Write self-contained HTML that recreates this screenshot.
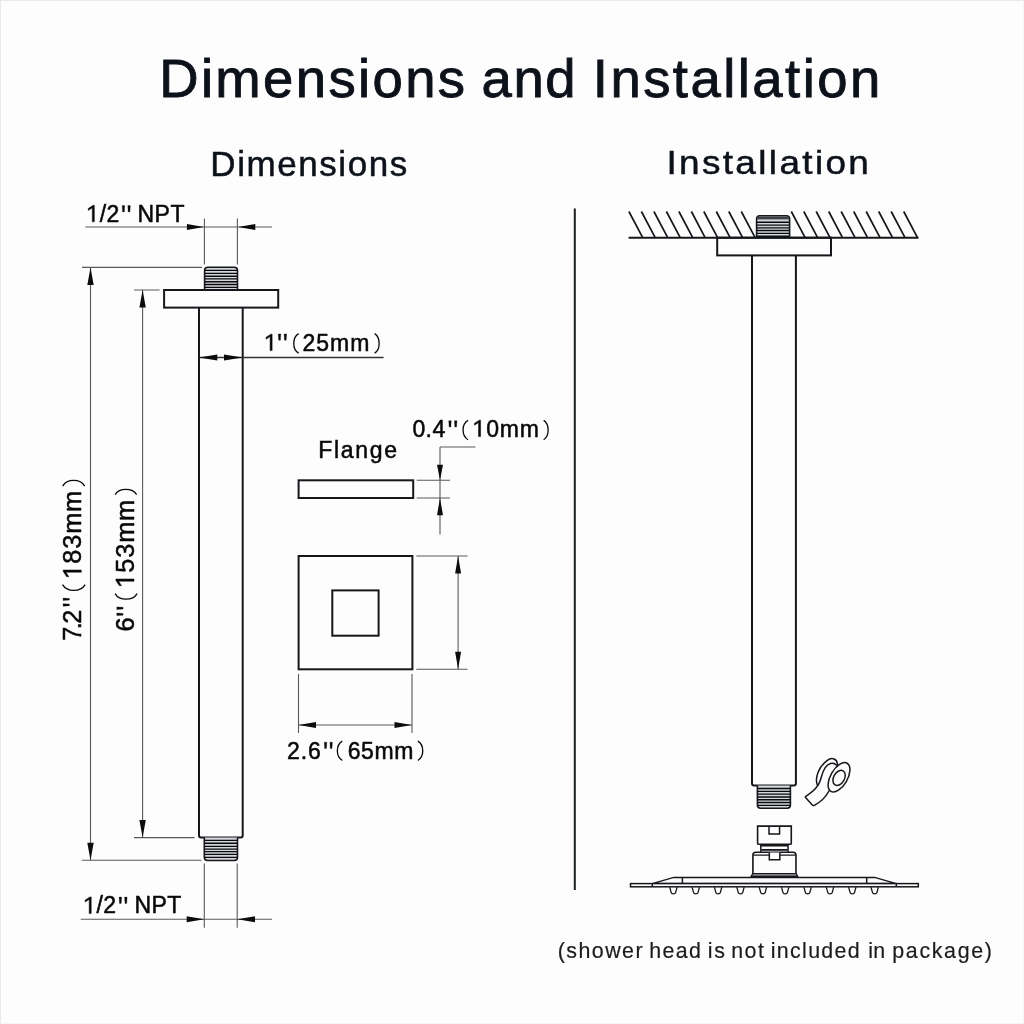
<!DOCTYPE html>
<html><head><meta charset="utf-8">
<style>
html,body{margin:0;padding:0;background:#fdfdfd;}
body{width:1024px;height:1024px;overflow:hidden;position:relative;}
svg{position:absolute;left:0;top:0;will-change:transform;}
text{font-family:"Liberation Sans",sans-serif;fill:#080808;stroke:#080808;}
.th{stroke:#5a5a5a;stroke-width:1.1;fill:none;}
.tk{stroke:#15171b;stroke-width:2;fill:none;}
.ar{fill:#0b0c0e;stroke:none;}
</style></head>
<body>
<svg width="1024" height="1024" viewBox="0 0 1024 1024">
<rect x="0" y="0" width="1024" height="1024" fill="#fdfdfd"/>
<path d="M0 0.5H1024M0.5 0V1024" stroke="#e9e9e9" stroke-width="1"/>
<path d="M0 1023.5H1024M1023.5 0V1024" stroke="#f5f5f5" stroke-width="1"/>

<!-- Titles -->

<!-- ===== LEFT: DIMENSIONS ===== -->
<!-- top 1/2 NPT -->
<path class="th" d="M85.3 227H272M204.4 218.4V264.5M237.4 218.4V264.5"/>
<path class="ar" d="M186.9 224L204 227L186.9 230Z M255.3 224L238 227L255.3 230Z"/>

<!-- top nipple -->
<path class="tk" style="stroke-width:1.6;fill:#d3d6db" d="M204.6 290V270.6Q204.6 267.3 207.9 267.3H234.2Q237.5 267.3 237.5 270.6V290"/>
<path class="th" style="stroke:#0a0a0c;stroke-width:1.35" d="M205 270.4H237M205 273.4H237M205 276.2H237M205 278.9H237M205 281.7H237M205 284.5H237M205 287.4H237"/>

<!-- flange -->
<rect class="tk" x="164.1" y="290" width="114.1" height="17.6"/>
<!-- pipe -->
<path class="tk" d="M199 307.6V835.6Q199 837.6 201 837.6H240.7Q242.7 837.6 242.7 835.6V307.6"/>
<!-- bottom nipple -->
<path class="tk" style="stroke-width:1.6;fill:#d3d6db" d="M204.3 837.6V857.3Q204.3 860.5 207.5 860.5H234.3Q237.5 860.5 237.5 857.3V837.6"/>
<path class="th" style="stroke:#0a0a0c;stroke-width:1.35" d="M204.8 840.3H237M204.8 843.2H237M204.8 846.3H237M204.8 849.1H237M204.8 851.6H237M204.8 854.3H237M204.8 857.3H237"/>

<!-- 7.2 dimension -->
<path class="th" d="M82 267.4H202M81.8 860.3H201.5M90.5 267.4V860.3"/>
<path class="ar" d="M90.5 267.4L93.7 285L87.3 285Z M90.5 860.3L93.7 842.8L87.3 842.8Z"/>

<!-- 6 dimension -->
<path class="th" d="M134 290H159.6M134 837.6H194.6M142.6 290V837.6"/>
<path class="ar" d="M142.6 290L145.8 307.4L139.4 307.4Z M142.6 837.6L145.8 820L139.4 820Z"/>

<!-- 1 inch dimension -->
<path class="th" style="stroke:#333;stroke-width:1.3" d="M199 357.5H383.6"/>
<path class="ar" d="M199 357.5L217.3 354.5L217.3 360.5Z M242.7 357.5L224 354.5L224 360.5Z"/>

<!-- bottom 1/2 NPT -->
<path class="th" d="M80.7 919.2H272M204.3 863.4V927.8M237.2 863.4V927.8"/>
<path class="ar" d="M186.7 916.2L204.3 919.2L186.7 922.2Z M255 916.2L237.2 919.2L255 922.2Z"/>

<!-- ===== FLANGE ===== -->
<rect class="tk" x="298.6" y="480.3" width="114.6" height="17.7"/>
<path class="th" d="M416.7 480.3H450M416.7 498H450M440 447H475.5M440 447V534.4"/>
<path class="ar" d="M440 480.3L443 464.7L437 464.7Z M440 498L443 515.3L437 515.3Z"/>

<rect class="tk" x="298.6" y="556" width="113.8" height="113.3"/>
<rect class="tk" x="332.3" y="590.4" width="46.3" height="45.3"/>
<path class="th" d="M416.3 556H467.5M416.3 669.3H467.5M458.1 556V669.3"/>
<path class="ar" d="M458.1 556L461.1 573.6L455.1 573.6Z M458.1 669.3L461.1 651.7L455.1 651.7Z"/>
<path class="th" d="M298.5 674V733M412 674V733M298.5 725H412"/>
<path class="ar" d="M298.5 725L316 722L316 728Z M412 725L394.5 722L394.5 728Z"/>

<!-- divider -->
<path class="tk" d="M574.8 208.5V890" style="stroke:#1a1f1f"/>

<!-- ===== RIGHT: INSTALLATION ===== -->
<path class="tk" style="stroke-width:1.7" d="M628.9 211.5L642.7 237.7M641.4 211.5L655.2 237.7M653.9 211.5L667.7 237.7M666.4 211.5L680.2 237.7M678.9 211.5L692.7 237.7M691.4 211.5L705.1 237.7M703.8 211.5L717.6 237.7M716.3 211.5L730.1 237.7M728.8 211.5L742.6 237.7M741.3 211.5L755.1 237.7M791.3 211.5L805.1 237.7M803.8 211.5L817.6 237.7M816.2 211.5L830.0 237.7M828.7 211.5L842.5 237.7M841.2 211.5L855.0 237.7M853.7 211.5L867.5 237.7M866.2 211.5L880.0 237.7M878.7 211.5L892.5 237.7M891.2 211.5L905.0 237.7M903.7 211.5L917.5 237.7"/>
<path class="tk" d="M628.6 237.7H918.5"/>
<!-- ceiling nipple -->
<path class="tk" style="stroke-width:1.6;fill:#d3d6db" d="M756.6 237.7V219Q756.6 215.8 759.8 215.8H786.4Q789.6 215.8 789.6 219V237.7"/>
<rect x="757.4" y="216.6" width="31.4" height="2.8" fill="#3c4046"/>
<path class="th" style="stroke:#0a0a0c;stroke-width:1.35" d="M757 222.2H789M757 225.1H789M757 227.8H789M757 230.5H789M757 233.4H789M757 236.2H789"/>
<rect class="tk" x="717.2" y="237.7" width="113.8" height="17.7"/>
<path class="tk" d="M752 255.4V783.5Q752 785.5 754 785.5H793.9Q795.9 785.5 795.9 783.5V255.4"/>
<path class="tk" style="stroke-width:1.6;fill:#d3d6db" d="M757.4 785.5V805Q757.4 808.2 760.6 808.2H787.2Q790.4 808.2 790.4 805V785.5"/>
<path class="th" style="stroke:#0a0a0c;stroke-width:1.35" d="M758 788.5H790M758 791.4H790M758 794.1H790M758 797H790M758 799.7H790M758 802.5H790M758 805.4H790"/>

<!-- tape roll (coords in 17.07x zoom space) -->
<g transform="translate(800 750) scale(0.058582)" fill="none" stroke="#15171b" stroke-width="1.5" style="vector-effect:non-scaling-stroke">
<path vector-effect="non-scaling-stroke" fill="#fdfdfd" d="M300 610C240 470 330 280 460 180C540 120 640 140 640 260L600 500L495 700C430 820 330 900 245 945C230 952 220 950 210 940L95 810C88 800 92 795 100 790C180 740 260 680 300 610Z"/>
<path vector-effect="non-scaling-stroke" d="M300 610C370 520 360 400 430 300C480 230 560 200 630 262"/>
<ellipse vector-effect="non-scaling-stroke" fill="#fdfdfd" cx="666" cy="466" rx="277" ry="144" transform="rotate(-60 666 466)"/>
<ellipse vector-effect="non-scaling-stroke" cx="667" cy="476" rx="138" ry="92" transform="rotate(-60 667 476)"/>
</g>

<!-- shower head connector (coords in 17.07x zoom space) -->
<g transform="translate(745 820) scale(0.058582)" fill="none" stroke="#15171b">
<path vector-effect="non-scaling-stroke" stroke-width="1.6" fill="#fdfdfd" d="M215 105H790V395Q790 415 770 415H235Q215 415 215 395Z"/>
<path vector-effect="non-scaling-stroke" stroke-width="1.5" d="M410 105V240H590V105"/>
<path vector-effect="non-scaling-stroke" stroke-width="1.5" d="M270 420V545M735 420V545M265 440H740"/>
<path vector-effect="non-scaling-stroke" stroke-width="1.8" d="M280 510H725"/>
<path vector-effect="non-scaling-stroke" stroke-width="1.6" fill="#fdfdfd" d="M135 915V600Q135 550 185 550H820Q870 550 870 600V915"/>
<path vector-effect="non-scaling-stroke" stroke-width="1.4" d="M145 600H860"/>
<path vector-effect="non-scaling-stroke" stroke-width="1.5" fill="#fdfdfd" d="M415 555V680H595V555"/>
<path vector-effect="non-scaling-stroke" stroke-width="1.2" fill="#a4a7ad" d="M130 915H875L900 962H105Z"/>
<path vector-effect="non-scaling-stroke" stroke-width="1.6" d="M100 966H905"/>
</g>

<!-- shower plate -->
<g fill="none" stroke="#15171b" stroke-width="1.5">
<path fill="#fdfdfd" d="M652.3 883.6L673.8 877.4H874.6L896.3 883.6Z"/>
<path d="M682.4 877.4V883.6M866.7 877.4V883.6"/>
<rect fill="#fdfdfd" x="630.5" y="883.6" width="287.8" height="3.2"/>
<path d="M652.3 883.6V886.8M896.3 883.6V886.8"/>
<path stroke-width="1.3" d="M669.7 887.2L671.2 892.6Q671.5 893.8 673.4 893.8Q675.3 893.8 675.6 892.6L677.1 887.2M692.1 887.2L693.6 892.6Q693.9 893.8 695.8 893.8Q697.7 893.8 698 892.6L699.5 887.2M714.4 887.2L715.9 892.6Q716.2 893.8 718.1 893.8Q720 893.8 720.3 892.6L721.8 887.2M736.8 887.2L738.3 892.6Q738.6 893.8 740.5 893.8Q742.4 893.8 742.7 892.6L744.2 887.2M759.2 887.2L760.7 892.6Q761 893.8 762.9 893.8Q764.8 893.8 765.1 892.6L766.6 887.2M781.5 887.2L783 892.6Q783.3 893.8 785.2 893.8Q787.1 893.8 787.4 892.6L788.9 887.2M803.9 887.2L805.4 892.6Q805.7 893.8 807.6 893.8Q809.5 893.8 809.8 892.6L811.3 887.2M826.3 887.2L827.8 892.6Q828.1 893.8 830 893.8Q831.9 893.8 832.2 892.6L833.7 887.2M848.6 887.2L850.1 892.6Q850.4 893.8 852.3 893.8Q854.2 893.8 854.5 892.6L856 887.2M871 887.2L872.5 892.6Q872.8 893.8 874.7 893.8Q876.6 893.8 876.9 892.6L878.4 887.2"/>
</g>

<g id="texts">
<text transform="translate(159.20 97.3) scale(1.0 0.9900)" font-size="54.5" stroke-width="0.9" letter-spacing="2.356" style="fill:#0d111a;stroke:#0d111a">Dimensions</text>
<text transform="translate(481.50 97.3) scale(1.0 0.9900)" font-size="54.5" stroke-width="0.9" letter-spacing="1.600" style="fill:#0d111a;stroke:#0d111a">and</text>
<text transform="translate(592.80 97.3) scale(1.0 0.9900)" font-size="54.5" stroke-width="0.9" letter-spacing="2.455" style="fill:#0d111a;stroke:#0d111a">Installation</text>
<text transform="translate(210.30 176.0) scale(1.0 0.9800)" font-size="35" stroke-width="0.5" letter-spacing="1.578" style="fill:#0d111a;stroke:#0d111a">Dimensions</text>
<text transform="translate(666.40 173.6) scale(1.055 0.9750)" font-size="35" stroke-width="0.5" letter-spacing="2.240" style="fill:#0d111a;stroke:#0d111a">Installation</text>
<path transform="translate(85.75 221.8) scale(0.01123 -0.01123)" d="M583 0H763V1466H650L223 1185V1010L583 1245Z" style="fill:#080808;stroke:#080808;stroke-width:44.5"/>
<text transform="translate(99.69 221.8) scale(1 1.0000)" font-size="23" stroke-width="0.5" letter-spacing="0.400">/2</text>
<text transform="translate(137.50 221.8) scale(1.0 1.0000)" font-size="23" stroke-width="0.5" letter-spacing="0.500">NPT</text>
<path transform="translate(263.55 350.6) scale(0.01123 -0.01123)" d="M583 0H763V1466H650L223 1185V1010L583 1245Z" style="fill:#080808;stroke:#080808;stroke-width:44.5"/>
<text transform="translate(277.09 350.6) scale(1 1.0000)" font-size="23" stroke-width="0.5"></text>
<text transform="translate(302.40 350.6) scale(1.0 1.0000)" font-size="23" stroke-width="0.5" letter-spacing="1.067">25mm</text>
<text transform="translate(318.30 458.0) scale(1.0 1.0000)" font-size="23" stroke-width="0.5" letter-spacing="1.680">Flange</text>
<text transform="translate(412.40 436.6) scale(1.0 1.0000)" font-size="23" stroke-width="0.5" letter-spacing="0.400">0.4</text>
<path transform="translate(472.00 436.6) scale(0.01123 -0.01123)" d="M583 0H763V1466H650L223 1185V1010L583 1245Z" style="fill:#080808;stroke:#080808;stroke-width:44.5"/>
<text transform="translate(486.27 436.6) scale(1 1.0000)" font-size="23" stroke-width="0.5" letter-spacing="0.733">0mm</text>
<text transform="translate(286.90 758.7) scale(1.0 1.0000)" font-size="23" stroke-width="0.5" letter-spacing="1.000">2.6</text>
<text transform="translate(347.70 758.7) scale(1.0 1.0000)" font-size="23" stroke-width="0.5" letter-spacing="0.600">65mm</text>
<path transform="translate(82.65 913.4) scale(0.01123 -0.01123)" d="M583 0H763V1466H650L223 1185V1010L583 1245Z" style="fill:#080808;stroke:#080808;stroke-width:44.5"/>
<text transform="translate(96.49 913.4) scale(1 1.0000)" font-size="23" stroke-width="0.5" letter-spacing="0.300">/2</text>
<text transform="translate(134.40 913.4) scale(1.0 1.0000)" font-size="23" stroke-width="0.5" letter-spacing="0.500">NPT</text>
<text transform="translate(557.70 958.4) scale(1.0 1.0000)" font-size="21.4" stroke-width="0.2" style="fill:#1c1c1c;stroke:#1c1c1c" letter-spacing="1.467">(shower</text>
<text transform="translate(649.20 958.4) scale(1.0 1.0000)" font-size="21.4" stroke-width="0.2" style="fill:#1c1c1c;stroke:#1c1c1c" letter-spacing="1.333">head</text>
<text transform="translate(707.80 958.4) scale(1.0 1.0000)" font-size="21.4" stroke-width="0.2" style="fill:#1c1c1c;stroke:#1c1c1c" letter-spacing="1.600">is</text>
<text transform="translate(731.20 958.4) scale(1.0 1.0000)" font-size="21.4" stroke-width="0.2" style="fill:#1c1c1c;stroke:#1c1c1c" letter-spacing="1.500">not</text>
<text transform="translate(770.80 958.4) scale(1.0 1.0000)" font-size="21.4" stroke-width="0.2" style="fill:#1c1c1c;stroke:#1c1c1c" letter-spacing="1.314">included</text>
<text transform="translate(868.20 958.4) scale(1.0 1.0000)" font-size="21.4" stroke-width="0.2" style="fill:#1c1c1c;stroke:#1c1c1c" letter-spacing="0.200">in</text>
<text transform="translate(892.30 958.4) scale(1.0 1.0000)" font-size="21.4" stroke-width="0.2" style="fill:#1c1c1c;stroke:#1c1c1c" letter-spacing="1.657">package)</text>
<text transform="rotate(-90) translate(-640.70 81.3) scale(1.0 1.0000)" font-size="25.3" stroke-width="0.5">7</text>
<text transform="rotate(-90) translate(-629.20 81.3) scale(1.0 1.0000)" font-size="25.3" stroke-width="0.5">.</text>
<text transform="rotate(-90) translate(-623.80 81.3) scale(1.0 1.0000)" font-size="25.3" stroke-width="0.5">2</text>
<path transform="rotate(-90) translate(-579.43 81.3) scale(0.01235 -0.01235)" d="M583 0H763V1466H650L223 1185V1010L583 1245Z" style="fill:#080808;stroke:#080808;stroke-width:40.5"/>
<text transform="rotate(-90) translate(-563.68 81.3) scale(1 1.0000)" font-size="25.3" stroke-width="0.5" letter-spacing="0.850">83mm</text>
<text transform="rotate(-90) translate(-631.50 134.0) scale(1.0 1.0000)" font-size="25.3" stroke-width="0.5">6</text>
<path transform="rotate(-90) translate(-588.43 134.0) scale(0.01235 -0.01235)" d="M583 0H763V1466H650L223 1185V1010L583 1245Z" style="fill:#080808;stroke:#080808;stroke-width:40.5"/>
<text transform="rotate(-90) translate(-572.68 134.0) scale(1 1.0000)" font-size="25.3" stroke-width="0.5" letter-spacing="0.850">53mm</text>
<path fill="none" stroke="#080808" stroke-width="1.3" d="M298.65 333.65C292.12 337.55 292.12 349.25 298.65 353.15M374.65 333.65C380.65 337.55 380.65 349.25 374.65 353.15M468.05 420.35C461.38 424.23 461.38 435.87 468.05 439.75M543.65 420.35C549.65 424.23 549.65 435.87 543.65 439.75M342.35 741.15C335.68 745.03 335.68 756.67 342.35 760.55M417.85 741.15C424.38 745.03 424.38 756.67 417.85 760.55M62.55 584.55C67.07 592.28 80.63 592.28 85.15 584.55M62.65 486.05C67.05 478.58 80.25 478.58 84.65 486.05M115.05 593.55C119.47 601.02 132.73 601.02 137.15 593.55M115.15 494.55C119.45 487.75 132.35 487.75 136.65 494.55"/>
<path fill="#080808" stroke="#080808" stroke-width="0.3" d="M122.20 205.60H124.70L124.30 211.90H122.60ZM127.80 205.60H130.30L129.90 211.90H128.20ZM119.10 897.10H121.60L121.20 903.40H119.50ZM124.60 897.10H127.10L126.70 903.40H125.00ZM278.30 333.90H280.80L280.40 340.20H278.70ZM284.10 333.90H286.60L286.20 340.20H284.50ZM448.75 420.70H451.25L450.85 427.00H449.15ZM454.45 420.70H456.95L456.55 427.00H454.85ZM324.30 742.20H326.80L326.40 748.50H324.70ZM329.90 742.20H332.40L332.00 748.50H330.30ZM63.10 603.70V606.20L69.40 605.80V604.10ZM63.10 598.10V600.50L69.40 600.10V598.50ZM116.80 613.00V615.60L123.10 615.20V613.40ZM116.80 606.90V609.50L123.10 609.10V607.30Z"/>
</g>
</svg>
</body></html>
